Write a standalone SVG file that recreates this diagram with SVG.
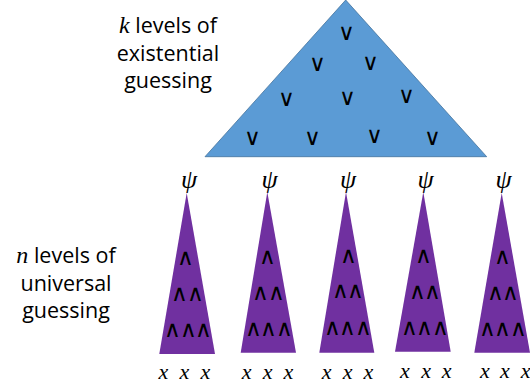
<svg xmlns="http://www.w3.org/2000/svg" width="530" height="389" viewBox="0 0 530 389">
<style>
.lbl{font-family:"Open Sans","Liberation Sans",sans-serif;font-size:21.5px;fill:#000;text-anchor:middle}
.math{font-family:"Liberation Serif","DejaVu Serif",serif;font-style:italic}
.sym{font-family:"DejaVu Sans","Liberation Sans",sans-serif;font-size:23px;font-weight:200;letter-spacing:-1.5px;fill:#000;text-anchor:middle;dominant-baseline:central}
.psi{font-family:"Liberation Serif","DejaVu Serif",serif;font-style:italic;font-size:26px;fill:#000;text-anchor:middle}
.x{font-family:"Liberation Serif","DejaVu Serif",serif;font-style:italic;font-size:22px;fill:#000;text-anchor:middle}
.blue{fill:#5B9BD5;stroke:#41719C;stroke-width:0.8}
.purple{fill:#7030A0}
</style>
<g id="label-k">
<text class="lbl" x="168" y="33"><tspan class="math" font-size="24">k</tspan> levels of</text>
<text class="lbl" x="168" y="61">existential</text>
<text class="lbl" x="168" y="88">guessing</text>
</g>
<g id="label-n">
<text class="lbl" x="66" y="263"><tspan class="math" font-size="24">n</tspan> levels of</text>
<text class="lbl" x="66" y="291">universal</text>
<text class="lbl" x="66" y="318">guessing</text>
</g>
<g id="existential-tree">
<polygon class="blue" points="345.7,0 486.7,156.7 205,156.7"/>
<text class="sym" x="345.7" y="32">∨</text>
<text class="sym" x="316.7" y="63">∨</text>
<text class="sym" x="370" y="62">∨</text>
<text class="sym" x="285.7" y="98">∨</text>
<text class="sym" x="346.7" y="97">∨</text>
<text class="sym" x="406" y="95">∨</text>
<text class="sym" x="251.7" y="137">∨</text>
<text class="sym" x="311.7" y="137">∨</text>
<text class="sym" x="373.3" y="135">∨</text>
<text class="sym" x="431.7" y="137">∨</text>
</g>
<g id="universal-tree-1">
<text class="psi" x="189" y="188">ψ</text>
<polygon class="purple" points="186.7,193 215,354 159.3,354"/>
<text class="sym" x="185" y="257">∧</text>
<text class="sym" x="186.5" y="293">∧∧</text>
<text class="sym" x="187.5" y="329">∧∧∧</text>
<text class="x" x="163.3" y="379">x</text>
<text class="x" x="184.3" y="379">x</text>
<text class="x" x="205.5" y="379">x</text>
</g>
<g id="universal-tree-2">
<text class="psi" x="269.5" y="188">ψ</text>
<polygon class="purple" points="267.3,192 296,352.7 240.7,352.7"/>
<text class="sym" x="267" y="256">∧</text>
<text class="sym" x="267.5" y="292">∧∧</text>
<text class="sym" x="268" y="328">∧∧∧</text>
<text class="x" x="246.7" y="379">x</text>
<text class="x" x="267.7" y="379">x</text>
<text class="x" x="288.5" y="379">x</text>
</g>
<g id="universal-tree-3">
<text class="psi" x="348" y="188">ψ</text>
<polygon class="purple" points="346,192 374.3,352.7 319.3,352.7"/>
<text class="sym" x="347.5" y="255">∧</text>
<text class="sym" x="347" y="290">∧∧</text>
<text class="sym" x="347" y="327">∧∧∧</text>
<text class="x" x="326.7" y="379">x</text>
<text class="x" x="347.7" y="379">x</text>
<text class="x" x="368.3" y="379">x</text>
</g>
<g id="universal-tree-4">
<text class="psi" x="425.5" y="188">ψ</text>
<polygon class="purple" points="423.3,192 450.7,351.7 395,351.7"/>
<text class="sym" x="423" y="255">∧</text>
<text class="sym" x="424" y="291">∧∧</text>
<text class="sym" x="424" y="327">∧∧∧</text>
<text class="x" x="405" y="378">x</text>
<text class="x" x="426.2" y="378">x</text>
<text class="x" x="446.7" y="378">x</text>
</g>
<g id="universal-tree-5">
<text class="psi" x="503.5" y="188">ψ</text>
<polygon class="purple" points="501.7,193 530,352.7 474.3,352.7"/>
<text class="sym" x="501.5" y="256">∧</text>
<text class="sym" x="502" y="292">∧∧</text>
<text class="sym" x="502" y="328">∧∧∧</text>
<text class="x" x="485" y="378">x</text>
<text class="x" x="505" y="378">x</text>
<text class="x" x="525.7" y="378">x</text>
</g>
<g id="connectors"></g>
</svg>
